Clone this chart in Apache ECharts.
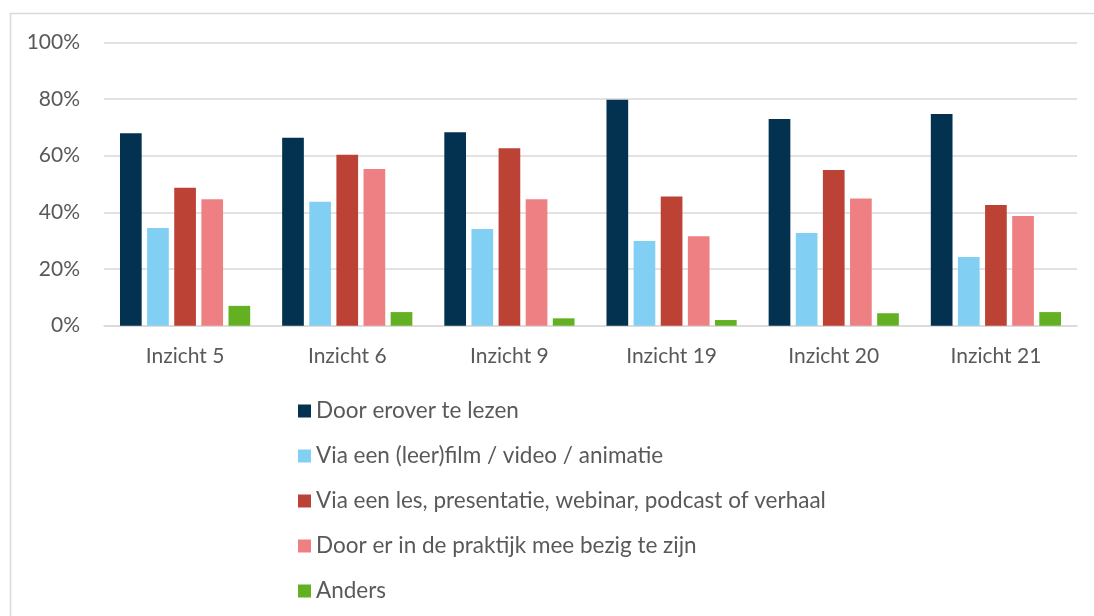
<!DOCTYPE html>
<html>
<head>
<meta charset="utf-8">
<script src="https://cdn.jsdelivr.net/npm/echarts@6/dist/echarts.min.js"></script>
<style>
html,body{margin:0;padding:0;background:#fff;}
#chart{width:1094px;height:616px;}
</style>
</head>
<body>
<div id="chart"></div>
<script>
const categories = ['Inzicht 5', 'Inzicht 6', 'Inzicht 9', 'Inzicht 19', 'Inzicht 20', 'Inzicht 21'];
const seriesNames = [
  'Door erover te lezen',
  'Via een (leer)film / video / animatie',
  'Via een les, presentatie, webinar, podcast of verhaal',
  'Door er in de praktijk mee bezig te zijn',
  'Anders'
];
const lezen = [67.9, 66.3, 68.3, 79.7, 72.9, 74.7];
const film = [34.5, 43.7, 34.1, 29.9, 32.7, 24.2];
const les = [48.7, 60.3, 62.6, 45.6, 54.9, 42.6];
const praktijk = [44.6, 55.3, 44.6, 31.6, 44.9, 38.7];
const anders = [7.0, 4.8, 2.6, 2.0, 4.4, 4.8];
const yTicks = [0, 20, 40, 60, 80, 100];

const colors = ['#02324F', '#81D0F3', '#BC4236', '#EE8084', '#63B122'];
const values = [lezen, film, les, praktijk, anders];
const FONT = 'Lato';

const chart = echarts.init(document.getElementById('chart'), null, {renderer: 'canvas'});
chart.setOption({
  animation: false,
  backgroundColor: '#fff',
  textStyle: {fontFamily: FONT},
  graphic: [{
    type: 'rect',
    shape: {x: 10.5, y: 13.5, width: 1100, height: 700},
    style: {fill: 'none', stroke: '#D9D9D9', lineWidth: 1.5},
    silent: true
  }],
  grid: {left: 104, right: 17, top: 42.3, bottom: 290.3, containLabel: false},
  xAxis: {
    type: 'category',
    data: categories,
    axisLine: {show: true, lineStyle: {color: '#D9D9D9', width: 1.5}},
    axisTick: {show: false},
    axisLabel: {color: '#595959', fontSize: 21, fontFamily: FONT, margin: 20}
  },
  yAxis: {
    type: 'value',
    min: yTicks[0],
    max: yTicks[yTicks.length - 1],
    interval: 20,
    axisLine: {show: false},
    axisTick: {show: false},
    splitLine: {lineStyle: {color: '#D9D9D9', width: 1.5}},
    axisLabel: {color: '#595959', fontSize: 21, fontFamily: FONT, margin: 24, formatter: '{value}%'}
  },
  legend: {
    orient: 'vertical',
    left: 293,
    top: 394,
    itemWidth: 13,
    itemHeight: 13,
    itemGap: 21,
    icon: 'rect',
    data: seriesNames,
    textStyle: {color: '#595959', fontSize: 22.5, fontFamily: FONT, lineHeight: 24}
  },
  series: seriesNames.map((name, i) => ({
    name: name,
    type: 'bar',
    data: values[i],
    barWidth: 21.7,
    barGap: '25%',
    itemStyle: {color: colors[i]}
  }))
});
</script>
</body>
</html>
